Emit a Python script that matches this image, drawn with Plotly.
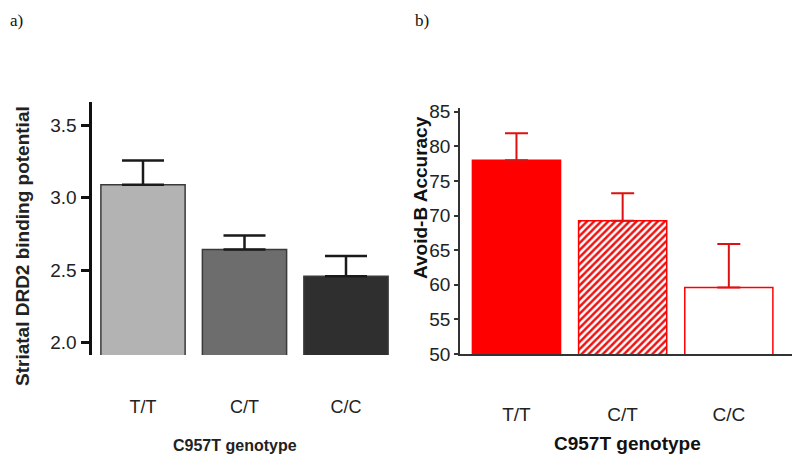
import plotly.graph_objects as go

# ---- data ----
genotypes = ["T/T", "C/T", "C/C"]

drd2_bp = [3.09, 2.643, 2.459]          # panel a means
drd2_err = [0.166, 0.096, 0.138]        # panel a SEM (upper only)

avoid_b = [78.0, 69.25, 59.6]           # panel b means
avoid_b_err = [3.9, 3.95, 6.3]          # panel b SEM (upper only)

left_ticks = [2.0, 2.5, 3.0, 3.5]
right_ticks = [50, 55, 60, 65, 70, 75, 80, 85]

# page is 800x464, the browser body adds an 8px margin
PAGE_OFF = 8
W, H = 800 - 2 * PAGE_OFF, 464 - 2 * PAGE_OFF


def fx(px):
    return min(1.0, max(0.0, (px - PAGE_OFF) / W))


def fy(py):
    return min(1.0, max(0.0, 1 - (py - PAGE_OFF) / H))


fig = go.Figure()

# ---- panel a ----
fig.add_trace(go.Bar(
    x=genotypes, y=drd2_bp,
    marker=dict(color=["#b3b3b3", "#6d6d6d", "#2f2f2f"],
                line=dict(color="#3a3a3a", width=1.5)),
    error_y=dict(type="data", array=drd2_err, arrayminus=[0, 0, 0],
                 symmetric=False, color="#1a1a1a", thickness=2.5, width=21),
    xaxis="x", yaxis="y", showlegend=False,
))

# ---- panel b ----
fig.add_trace(go.Bar(
    x=genotypes, y=avoid_b,
    marker=dict(color=["#ff0000", "#ee1111", "#ffffff"],
                line=dict(color="#ff0000", width=1.5),
                pattern=dict(shape=["", "/", ""], fillmode="replace",
                             size=5, solidity=0.5)),
    error_y=dict(type="data", array=avoid_b_err, arrayminus=[0, 0, 0],
                 symmetric=False, color="#dd1111", thickness=2, width=11.5),
    xaxis="x2", yaxis="y2", showlegend=False,
))

font_a = "Arial, Liberation Sans, sans-serif"

fig.update_layout(
    width=W, height=H,
    margin=dict(l=0, r=0, t=0, b=0),
    paper_bgcolor="white", plot_bgcolor="white",
    bargap=0.17,
    xaxis=dict(
        domain=[fx(92.25), fx(396.75)], anchor="y",
        type="category", range=[-0.5, 2.5],
        showline=False, showgrid=False, zeroline=False, ticks="",
        ticklabelstandoff=39,
        tickfont=dict(family=font_a, size=18, color="#222"),
        automargin=False,
    ),
    yaxis=dict(
        domain=[fy(355), fy(102)], anchor="x",
        range=[1.915, 3.66], tickvals=left_ticks,
        ticktext=[f"{v:.1f}" for v in left_ticks],
        showline=True, linecolor="#111", linewidth=2.5,
        ticks="outside", ticklen=9, tickwidth=2.5, tickcolor="#111",
        showgrid=False, zeroline=False,
        tickfont=dict(family=font_a, size=19, color="#222"),
        automargin=False,
    ),
    xaxis2=dict(
        domain=[fx(460), fx(793)], anchor="y2",
        type="category", range=[-0.532, 2.595],
        showline=True, linecolor="#333", linewidth=1.5,
        showgrid=False, zeroline=False, ticks="",
        ticklabelstandoff=42,
        tickfont=dict(family=font_a, size=19, color="#222"),
        automargin=False,
    ),
    yaxis2=dict(
        domain=[fy(354), fy(108)], anchor="x2",
        range=[50, 85.53], tickvals=right_ticks,
        showline=True, linecolor="#333", linewidth=1.5,
        ticks="outside", ticklen=4, tickwidth=1.5, tickcolor="#333",
        showgrid=False, zeroline=False,
        tickfont=dict(family=font_a, size=19, color="#222"),
        automargin=False,
    ),
    annotations=[
        dict(text="a)", x=fx(8), y=fy(9), xref="paper", yref="paper",
             xanchor="left", yanchor="top", showarrow=False,
             font=dict(family="Liberation Serif, Times New Roman, serif", size=17, color="#111")),
        dict(text="b)", x=fx(413), y=fy(9), xref="paper", yref="paper",
             xanchor="left", yanchor="top", showarrow=False,
             font=dict(family="Liberation Serif, Times New Roman, serif", size=17, color="#111")),
        dict(text="<b>Striatal DRD2 binding potential</b>", textangle=-90,
             x=fx(22), y=fy(246), xref="paper", yref="paper",
             xanchor="center", yanchor="middle", showarrow=False,
             font=dict(family=font_a, size=19, color="#222")),
        dict(text="<b>C957T genotype</b>",
             x=fx(235), y=0, xref="paper", yref="paper",
             xanchor="center", yanchor="bottom", showarrow=False,
             font=dict(family=font_a, size=16, color="#222")),
        dict(text="<b>Avoid-B Accuracy</b>", textangle=-90,
             x=fx(421), y=fy(198), xref="paper", yref="paper",
             xanchor="center", yanchor="middle", showarrow=False,
             font=dict(family=font_a, size=19, color="#111")),
        dict(text="<b>C957T genotype</b>",
             x=fx(627), y=0, xref="paper", yref="paper",
             xanchor="center", yanchor="bottom", showarrow=False,
             font=dict(family=font_a, size=19, color="#111")),
    ],
)

fig.write_html("out.html")
